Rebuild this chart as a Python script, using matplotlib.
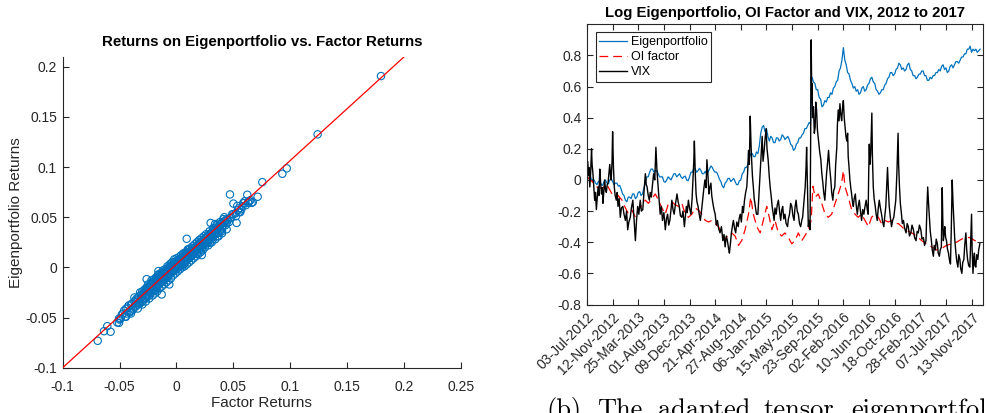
import numpy as np
import matplotlib.pyplot as plt

plt.rcParams['font.family'] = ['Liberation Sans', 'DejaVu Sans']
plt.rcParams['axes.unicode_minus'] = False

# ---- left panel: daily returns, factor vs eigenportfolio ----
factor_ret = [
    -0.044, -0.042, -0.041, -0.040, -0.038, -0.037, -0.036, -0.035, -0.034, -0.033,
    -0.032, -0.031, -0.030, -0.029, -0.028, -0.027, -0.026, -0.025, -0.025, -0.024,
    -0.023, -0.022, -0.022, -0.021, -0.020, -0.020, -0.019, -0.018, -0.018, -0.017,
    -0.016, -0.016, -0.015, -0.015, -0.014, -0.013, -0.013, -0.012, -0.012, -0.011,
    -0.010, -0.010, -0.009, -0.009, -0.008, -0.008, -0.007, -0.007, -0.006, -0.006,
    -0.005, -0.005, -0.004, -0.004, -0.003, -0.003, -0.002, -0.002, -0.001, -0.001,
    0.000, 0.000, 0.001, 0.001, 0.002, 0.002, 0.003, 0.003, 0.004, 0.004,
    0.005, 0.005, 0.006, 0.006, 0.007, 0.007, 0.008, 0.008, 0.009, 0.010,
    0.010, 0.011, 0.012, 0.012, 0.013, 0.014, 0.014, 0.015, 0.016, 0.017,
    0.018, 0.018, 0.019, 0.020, 0.021, 0.022, 0.023, 0.024, 0.025, 0.026,
    0.027, 0.028, 0.029, 0.030, 0.031, 0.032, 0.033, 0.034, 0.035, 0.036,
    0.037, 0.038, 0.039, 0.040, 0.042, 0.043, 0.044, 0.046, 0.048,
    -0.015, -0.008, -0.003, 0.002, 0.006, 0.011, 0.016, 0.021, -0.020, -0.026,
    -0.011, 0.000, 0.004, 0.009, -0.035, -0.030, 0.025, 0.030, -0.048, -0.046,
    0.050, 0.054, 0.056, 0.058, 0.060, 0.064, 0.067, 0.041, 0.044, -0.050,
    -0.043, -0.041, -0.039, -0.038, -0.036, -0.035, -0.034, -0.033, -0.031, -0.030,
    -0.029, -0.028, -0.027, -0.026, -0.025, -0.024, -0.023, -0.022, -0.021, -0.020,
    -0.019, -0.018, -0.017, -0.017, -0.016, -0.015, -0.014, -0.014, -0.013, -0.012,
    -0.011, -0.011, -0.010, -0.009, -0.008, -0.008, -0.007, -0.006, -0.006, -0.005,
    -0.004, -0.004, -0.003, -0.002, -0.002, -0.001, 0.000, 0.000, 0.001, 0.002,
    0.003, 0.003, 0.004, 0.005, 0.005, 0.006, 0.007, 0.007, 0.008, 0.009,
    0.009, 0.010, 0.011, 0.011, 0.012, 0.013, 0.013, 0.014, 0.015, 0.015,
    0.016, 0.017, 0.018, 0.019, 0.019, 0.020, 0.021, 0.022, 0.023, 0.024,
    0.025, 0.026, 0.027, 0.028, 0.029, 0.030, 0.031, 0.032, 0.033, 0.034,
    0.035, 0.036, 0.038, 0.039, 0.040, 0.041, 0.043, 0.045, 0.047, 0.049,
    0.052, 0.055, 0.057, 0.059, 0.061, 0.063, 0.065, -0.047, -0.045, -0.049,
    -0.052, -0.040, -0.027, -0.024, -0.019, 0.018, 0.022, 0.027, 0.032, 0.036,
    0.040, -0.030, -0.022, -0.016, 0.010, 0.006, 0.020,
    -0.040, -0.037, -0.034, -0.032, -0.030, -0.028, -0.027, -0.025, -0.024, -0.022,
    -0.021, -0.020, -0.019, -0.018, -0.017, -0.016, -0.015, -0.014, -0.013, -0.012,
    -0.011, -0.010, -0.009, -0.008, -0.007, -0.006, -0.005, -0.004, -0.003, -0.002,
    -0.001, 0.000, 0.001, 0.002, 0.003, 0.004, 0.005, 0.006, 0.007, 0.008,
    0.009, 0.010, 0.011, 0.012, 0.013, 0.014, 0.015, 0.016, 0.017, 0.018,
    0.019, 0.020, 0.021, 0.022, 0.023, 0.024, 0.025, 0.026, 0.028, 0.029,
    0.031, 0.032, 0.034, 0.035, 0.037, 0.038, 0.040, 0.042, 0.044,
    0.1797, 0.124, 0.093, 0.0969, 0.0754, 0.0713, 0.047, 0.0622, 0.050, 0.0528,
    0.0522, 0.0534, 0.0587, 0.063, 0.066, 0.0552, 0.009, 0.0295, 0.0222, 0.0339,
    0.0383, 0.030, -0.013, -0.0159, -0.0262, -0.0063, -0.0692, -0.0637, -0.0608, -0.0579,
    -0.0505, -0.0505, -0.0444, -0.0444, -0.0262, -0.0218,
]
eigen_ret = [
    -0.046, -0.038, -0.044, -0.037, -0.041, -0.034, -0.039, -0.031, -0.037, -0.029,
    -0.036, -0.027, -0.034, -0.026, -0.030, -0.022, -0.029, -0.020, -0.027, -0.023,
    -0.018, -0.025, -0.016, -0.022, -0.015, -0.023, -0.013, -0.020, -0.012, -0.019,
    -0.010, -0.017, -0.009, -0.016, -0.011, -0.007, -0.014, -0.006, -0.013, -0.008,
    -0.004, -0.011, -0.003, -0.010, -0.005, -0.001, -0.008, -0.002, 0.000, -0.007,
    -0.002, 0.002, -0.005, 0.001, 0.003, -0.003, 0.000, 0.005, -0.002, 0.003,
    0.006, 0.000, 0.002, 0.007, 0.001, 0.005, 0.008, 0.003, 0.004, 0.009,
    0.006, 0.002, 0.010, 0.005, 0.008, 0.012, 0.006, 0.011, 0.013, 0.009,
    0.015, 0.012, 0.016, 0.010, 0.014, 0.018, 0.013, 0.016, 0.020, 0.016,
    0.021, 0.017, 0.023, 0.019, 0.025, 0.021, 0.026, 0.022, 0.029, 0.025,
    0.031, 0.026, 0.033, 0.029, 0.034, 0.030, 0.036, 0.033, 0.039, 0.034,
    0.041, 0.037, 0.043, 0.039, 0.046, 0.042, 0.048, 0.045, 0.050,
    -0.013, -0.007, 0.000, 0.003, 0.007, 0.013, 0.017, 0.023, -0.019, -0.024,
    -0.009, 0.003, 0.006, 0.010, -0.035, -0.029, 0.026, 0.031, -0.047, -0.043,
    0.053, 0.057, 0.055, 0.061, 0.066, 0.066, 0.065, 0.048, 0.044, -0.052,
    -0.040, -0.045, -0.036, -0.042, -0.033, -0.038, -0.032, -0.036, -0.029, -0.031,
    -0.032, -0.025, -0.028, -0.021, -0.024, -0.019, -0.026, -0.019, -0.017, -0.020,
    -0.016, -0.015, -0.013, -0.020, -0.013, -0.012, -0.015, -0.009, -0.010, -0.009,
    -0.012, -0.005, -0.007, -0.006, -0.010, -0.004, -0.005, -0.003, -0.004, -0.006,
    -0.001, -0.002, 0.001, -0.003, 0.002, 0.000, 0.002, -0.002, 0.004, 0.003,
    0.006, 0.001, 0.007, 0.004, 0.008, 0.008, 0.004, 0.010, 0.009, 0.007,
    0.011, 0.012, 0.010, 0.015, 0.013, 0.011, 0.017, 0.016, 0.019, 0.013,
    0.017, 0.020, 0.019, 0.018, 0.022, 0.023, 0.020, 0.025, 0.023, 0.027,
    0.024, 0.029, 0.027, 0.031, 0.028, 0.034, 0.031, 0.036, 0.032, 0.037,
    0.035, 0.038, 0.040, 0.037, 0.044, 0.042, 0.046, 0.047, 0.049, 0.053,
    0.054, 0.059, 0.058, 0.064, 0.062, 0.065, 0.067, -0.046, -0.049, -0.051,
    -0.055, -0.043, -0.031, -0.028, -0.023, 0.014, 0.018, 0.024, 0.028, 0.031,
    0.036, -0.024, -0.015, -0.008, 0.018, 0.013, 0.027,
    -0.046, -0.030, -0.041, -0.025, -0.037, -0.022, -0.034, -0.017, -0.031, -0.013,
    -0.028, -0.012, -0.026, -0.010, -0.024, -0.007, -0.021, -0.006, -0.019, -0.003,
    -0.017, -0.002, -0.015, 0.001, -0.013, 0.003, -0.011, 0.005, -0.008, 0.008,
    -0.006, 0.009, -0.004, 0.010, -0.002, 0.012, 0.000, 0.014, 0.001, 0.015,
    0.003, 0.017, 0.005, 0.019, 0.007, 0.021, 0.009, 0.023, 0.011, 0.025,
    0.013, 0.027, 0.015, 0.029, 0.017, 0.031, 0.020, 0.033, 0.022, 0.036,
    0.025, 0.039, 0.028, 0.042, 0.031, 0.045, 0.034, 0.050, 0.038,
    0.1907, 0.1326, 0.0933, 0.0987, 0.085, 0.0704, 0.0727, 0.0724, 0.0636, 0.0443,
    0.051, 0.0612, 0.0643, 0.0643, 0.0643, 0.0554, 0.0285, 0.0245, 0.0122, 0.0432,
    0.0435, 0.0443, -0.027, -0.0037, -0.0117, -0.017, -0.0732, -0.0636, -0.0586, -0.0642,
    -0.0553, -0.051, -0.0493, -0.0413, -0.020, -0.017,
]
fit_slope = 1.033
fit_intercept = 0.0033

x_ticks_left = [-0.1, -0.05, 0, 0.05, 0.1, 0.15, 0.2, 0.25]
x_labels_left = ['-0.1', '-0.05', '0', '0.05', '0.1', '0.15', '0.2', '0.25']
y_ticks_left = [-0.1, -0.05, 0, 0.05, 0.1, 0.15, 0.2]
y_labels_left = ['-0.1', '-0.05', '0', '0.05', '0.1', '0.15', '0.2']

# ---- right panel: log levels, (trading day, value) ----
eig_obs = [
    (0, 0.02), (5, 0.045), (10, 0.04), (15, 0.005), (20, 0.00), (25, 0.0), (30, -0.02), (35, -0.03),
    (40, -0.01), (45, -0.005), (50, -0.03), (55, -0.035), (60, -0.01), (65, 0.0), (70, -0.02),
    (75, -0.025), (80, 0.00), (85, 0.01), (90, -0.01), (95, -0.03),
    (100, -0.02), (105, -0.02), (110, -0.04), (115, -0.035), (120, -0.06), (125, -0.09), (130, -0.10),
    (135, -0.13), (140, -0.14), (145, -0.11), (150, -0.11), (155, -0.12), (160, -0.09), (165, -0.09),
    (170, -0.12), (175, -0.11), (180, -0.08), (185, -0.075), (190, -0.10), (195, -0.09),
    (200, -0.05), (205, -0.02), (210, 0.02), (215, 0.02), (220, 0.05), (225, 0.07), (230, 0.07),
    (235, 0.05), (240, 0.06), (245, 0.06), (250, 0.04), (255, 0.02), (260, 0.02), (265, 0.02),
    (270, -0.01), (275, -0.015), (280, 0.00), (285, 0.02), (290, 0.01), (295, 0.0),
    (300, 0.02), (305, 0.04), (310, 0.04), (315, 0.02), (320, 0.03), (325, 0.04), (330, 0.02),
    (335, 0.01), (340, 0.02), (345, 0.025), (350, 0.00), (355, -0.005), (360, 0.02), (365, 0.05),
    (370, 0.05), (375, 0.075), (380, 0.07), (385, 0.05), (390, 0.06), (395, 0.075),
    (400, 0.06), (405, 0.04), (410, 0.04), (415, 0.055), (420, 0.04), (425, 0.05), (430, 0.07),
    (435, 0.09), (440, 0.08), (445, 0.06), (450, 0.05), (455, 0.05), (460, 0.03), (465, 0.005),
    (470, -0.01), (475, -0.04), (480, -0.05), (485, -0.02), (490, -0.01), (495, 0.01),
    (500, 0.01), (505, -0.01), (510, 0.00), (515, 0.01), (520, -0.01), (525, -0.03), (530, -0.03),
    (535, -0.005), (540, 0.00), (545, 0.04), (550, 0.05), (555, 0.08), (560, 0.08), (565, 0.10),
    (570, 0.14), (575, 0.17), (580, 0.17), (585, 0.15), (590, 0.15), (595, 0.18),
    (600, 0.17), (605, 0.22), (610, 0.30), (615, 0.34), (620, 0.35), (625, 0.31), (630, 0.33),
    (635, 0.28), (640, 0.25), (645, 0.28), (650, 0.27), (655, 0.24), (660, 0.24), (665, 0.27),
    (670, 0.27), (675, 0.25), (680, 0.26), (685, 0.29), (690, 0.28), (695, 0.26),
    (700, 0.27), (705, 0.28), (710, 0.26), (715, 0.23), (720, 0.22), (725, 0.19), (730, 0.20),
    (735, 0.23), (740, 0.24), (745, 0.27), (750, 0.27), (755, 0.29), (760, 0.30), (765, 0.33),
    (770, 0.33), (775, 0.35), (780, 0.37), (785, 0.36), (787, 0.66), (790, 0.66), (795, 0.63),
    (800, 0.62), (805, 0.58), (810, 0.58), (815, 0.53), (820, 0.52), (825, 0.47), (830, 0.48),
    (835, 0.51), (840, 0.50), (845, 0.53), (850, 0.53), (855, 0.56), (860, 0.55), (865, 0.59),
    (870, 0.60), (875, 0.63), (880, 0.64), (885, 0.70), (890, 0.72), (895, 0.77),
    (900, 0.85), (905, 0.77), (910, 0.74), (915, 0.69), (920, 0.68), (925, 0.64), (930, 0.62),
    (935, 0.59), (940, 0.60), (945, 0.57), (950, 0.58), (955, 0.55), (960, 0.56), (965, 0.59),
    (970, 0.60), (975, 0.57), (980, 0.58), (985, 0.61), (990, 0.62), (995, 0.65),
    (1000, 0.66), (1005, 0.63), (1010, 0.62), (1015, 0.58), (1020, 0.57), (1025, 0.55), (1030, 0.56),
    (1035, 0.58), (1040, 0.58), (1045, 0.61), (1050, 0.62), (1055, 0.65), (1060, 0.66), (1065, 0.69),
    (1070, 0.69), (1075, 0.67), (1080, 0.68), (1085, 0.71), (1090, 0.72), (1095, 0.75),
    (1100, 0.74), (1105, 0.71), (1110, 0.72), (1115, 0.70), (1120, 0.71), (1125, 0.74), (1130, 0.75),
    (1135, 0.71), (1140, 0.70), (1145, 0.67), (1150, 0.67), (1155, 0.65), (1160, 0.66), (1165, 0.68),
    (1170, 0.68), (1175, 0.70), (1180, 0.70), (1185, 0.67), (1190, 0.67), (1195, 0.64),
    (1200, 0.64), (1205, 0.66), (1210, 0.65), (1215, 0.67), (1220, 0.67), (1225, 0.69), (1230, 0.69),
    (1235, 0.71), (1240, 0.70), (1245, 0.73), (1250, 0.74), (1255, 0.71), (1260, 0.72), (1265, 0.69),
    (1270, 0.70), (1275, 0.73), (1280, 0.74), (1285, 0.72), (1290, 0.74), (1295, 0.76),
    (1300, 0.76), (1305, 0.75), (1310, 0.77), (1315, 0.79), (1320, 0.79), (1325, 0.81), (1330, 0.81),
    (1335, 0.84), (1340, 0.84), (1345, 0.86), (1350, 0.82), (1355, 0.84), (1360, 0.83), (1365, 0.84),
    (1370, 0.82), (1375, 0.83), (1380, 0.84),
]

oi_obs = [
    (0, 0.02), (18, -0.01), (35, -0.045), (53, -0.055), (70, -0.03), (88, -0.09), (105, -0.09),
    (123, -0.13), (135, -0.18), (146, -0.22), (158, -0.195), (170, -0.24), (181, -0.195),
    (193, -0.16), (205, -0.13), (216, -0.15), (228, -0.12), (240, -0.09), (251, -0.13),
    (263, -0.18), (275, -0.22), (286, -0.15), (298, -0.14), (310, -0.16), (322, -0.17),
    (333, -0.15), (345, -0.22), (356, -0.24), (368, -0.22), (380, -0.18), (392, -0.195),
    (403, -0.22), (415, -0.26), (427, -0.27), (438, -0.26), (450, -0.28), (462, -0.30),
    (473, -0.35), (485, -0.38), (497, -0.35), (508, -0.34), (520, -0.36), (532, -0.42),
    (543, -0.39), (555, -0.32), (567, -0.22), (575, -0.11), (584, -0.22), (596, -0.30),
    (608, -0.34), (619, -0.26), (631, -0.17), (640, -0.24), (649, -0.32), (660, -0.26),
    (672, -0.34), (684, -0.36), (695, -0.34), (707, -0.37), (719, -0.41), (730, -0.39),
    (742, -0.34), (754, -0.39), (766, -0.355), (777, -0.32), (787, -0.26), (793, -0.04),
    (801, -0.11), (812, -0.09), (824, -0.15), (836, -0.22), (847, -0.24), (859, -0.22),
    (871, -0.15), (882, -0.09), (894, -0.02), (900, 0.06), (906, -0.045), (917, -0.11),
    (929, -0.19), (941, -0.22), (952, -0.24), (964, -0.22), (976, -0.26), (988, -0.30),
    (999, -0.24), (1011, -0.22), (1023, -0.24), (1034, -0.28), (1046, -0.26), (1058, -0.27),
    (1069, -0.26), (1081, -0.28), (1093, -0.28), (1105, -0.30), (1116, -0.32), (1128, -0.33),
    (1140, -0.34), (1157, -0.36), (1175, -0.39), (1192, -0.41), (1210, -0.43), (1227, -0.45),
    (1245, -0.44), (1262, -0.42), (1280, -0.41), (1297, -0.40), (1315, -0.38), (1333, -0.37),
    (1344, -0.37), (1362, -0.39), (1379, -0.40),
]

vix_obs = [
    (0, 0.10), (1, 0.02), (2, 0.12), (5, 0.03), (7, 0.08), (10, -0.045), (13, 0.05), (16, 0.20),
    (18, 0.10), (21, 0.04), (24, -0.05), (27, -0.13), (30, -0.08), (33, -0.19), (36, -0.12),
    (39, -0.045), (42, -0.10), (45, 0.07), (48, -0.02), (51, -0.09), (54, -0.05), (56, -0.15),
    (59, -0.08), (62, 0.00), (65, -0.06), (68, -0.08), (71, -0.03), (74, -0.02), (77, 0.04),
    (80, 0.10), (83, 0.02), (85, 0.00), (88, 0.12), (90, 0.31), (93, 0.08), (96, -0.045),
    (99, -0.10), (103, -0.13), (106, -0.08), (109, -0.17), (113, -0.12), (117, -0.24), (121, -0.18),
    (126, -0.17), (130, -0.22), (135, -0.26), (139, -0.20), (143, -0.32), (147, -0.27), (152, -0.24),
    (156, -0.18), (161, -0.13), (165, -0.25), (170, -0.39), (174, -0.26), (178, -0.17), (182, -0.22),
    (187, -0.13), (191, -0.20), (196, -0.19), (200, -0.08), (205, 0.04), (208, -0.03), (211, -0.045),
    (215, -0.10), (219, -0.13), (222, -0.08), (226, -0.11), (230, -0.03), (234, 0.04), (238, 0.00),
    (242, 0.21), (246, 0.05), (250, -0.045), (254, -0.14), (257, -0.22), (261, -0.17), (265, -0.26),
    (270, -0.21), (275, -0.32), (279, -0.25), (283, -0.22), (287, -0.29), (291, -0.26), (295, -0.19),
    (298, -0.13), (302, -0.19), (306, -0.22), (311, -0.15), (316, -0.09), (320, -0.14), (324, -0.17),
    (328, -0.23), (333, -0.24), (337, -0.20), (342, -0.30), (345, -0.24), (349, -0.17), (352, -0.21),
    (356, -0.13), (360, -0.18), (365, -0.22), (369, -0.12), (373, 0.04), (375, 0.12), (377, 0.25),
    (380, 0.05), (383, -0.09), (386, -0.14), (390, -0.17), (394, -0.22), (398, -0.26), (402, -0.20),
    (406, -0.13), (410, -0.06), (414, 0.00), (418, -0.05), (421, 0.13), (425, 0.02), (428, -0.09),
    (431, -0.05), (435, -0.02), (438, -0.10), (442, -0.15), (446, -0.19), (450, -0.22), (454, -0.29),
    (458, -0.26), (462, -0.31), (467, -0.34), (472, -0.30), (477, -0.39), (481, -0.35), (485, -0.43),
    (489, -0.36), (493, -0.39), (497, -0.44), (500, -0.47), (504, -0.40), (507, -0.34), (511, -0.29),
    (514, -0.26), (518, -0.31), (522, -0.34), (526, -0.27), (531, -0.30), (534, -0.25), (538, -0.22),
    (542, -0.27), (546, -0.17), (549, -0.21), (553, -0.13), (557, -0.08), (561, -0.045), (564, 0.05),
    (567, 0.19), (570, 0.10), (573, 0.41), (576, 0.22), (578, 0.13), (581, 0.02), (584, -0.045),
    (587, -0.12), (591, -0.17), (595, -0.22), (600, -0.22), (604, -0.08), (608, 0.05), (611, 0.15),
    (615, 0.28), (618, 0.12), (622, 0.19), (625, 0.26), (629, 0.33), (632, 0.20), (636, 0.13),
    (640, 0.02), (643, -0.045), (647, -0.11), (650, -0.17), (654, -0.22), (657, -0.26), (660, -0.18),
    (664, -0.22), (668, -0.16), (672, -0.13), (676, -0.20), (680, -0.26), (684, -0.19), (687, -0.17),
    (691, -0.25), (695, -0.22), (699, -0.28), (704, -0.30), (707, -0.25), (711, -0.22), (715, -0.15),
    (719, -0.17), (723, -0.23), (727, -0.26), (730, -0.18), (734, -0.13), (738, -0.20), (742, -0.22),
    (746, -0.28), (750, -0.30), (754, -0.26), (757, -0.24), (761, -0.15), (766, -0.045), (769, 0.08),
    (771, 0.21), (774, -0.05), (777, -0.30), (780, -0.26), (783, -0.32), (785, 0.20), (787, 0.90),
    (789, 0.55), (790, 0.62), (792, 0.40), (795, 0.47), (798, 0.30), (801, 0.34), (803, 0.50),
    (806, 0.45), (809, 0.32), (813, 0.25), (817, 0.18), (821, 0.13), (824, 0.05), (828, -0.02),
    (831, -0.08), (835, -0.13), (838, -0.05), (841, 0.04), (845, 0.12), (848, 0.19), (852, 0.08),
    (856, 0.00), (859, -0.08), (863, -0.13), (866, -0.07), (870, -0.045), (873, 0.10), (877, 0.21),
    (879, 0.35), (882, 0.45), (885, 0.38), (888, 0.49), (891, 0.42), (894, 0.38), (897, 0.46),
    (900, 0.51), (903, 0.40), (906, 0.34), (909, 0.28), (912, 0.25), (915, 0.30), (917, 0.15),
    (920, 0.08), (923, 0.00), (926, -0.05), (929, -0.09), (932, -0.14), (935, -0.17), (938, -0.12),
    (942, -0.09), (945, -0.16), (949, -0.22), (952, -0.17), (956, -0.13), (960, -0.20), (964, -0.26),
    (968, -0.19), (972, -0.22), (976, -0.17), (980, -0.13), (984, -0.19), (987, -0.22), (989, 0.05),
    (991, 0.23), (993, 0.10), (996, 0.17), (998, 0.30), (1000, 0.43), (1002, 0.15), (1005, -0.045),
    (1008, -0.12), (1012, -0.17), (1015, -0.22), (1019, -0.26), (1022, -0.19), (1026, -0.13),
    (1030, -0.18), (1034, -0.22), (1038, -0.27), (1042, -0.30), (1045, -0.24), (1049, -0.17),
    (1052, -0.05), (1055, 0.08), (1058, -0.06), (1061, -0.17), (1065, -0.24), (1069, -0.30),
    (1073, -0.26), (1077, -0.24), (1081, -0.18), (1084, -0.13), (1088, 0.05), (1092, 0.30),
    (1094, 0.10), (1097, -0.045), (1100, -0.15), (1104, -0.22), (1107, -0.28), (1111, -0.26),
    (1115, -0.31), (1120, -0.34), (1124, -0.28), (1128, -0.30), (1132, -0.36), (1137, -0.34),
    (1141, -0.29), (1146, -0.32), (1150, -0.37), (1155, -0.39), (1159, -0.33), (1163, -0.34),
    (1167, -0.29), (1172, -0.32), (1176, -0.38), (1181, -0.37), (1185, -0.42), (1190, -0.39),
    (1193, -0.20), (1196, -0.045), (1199, -0.15), (1202, -0.24), (1205, -0.33), (1209, -0.39),
    (1212, -0.45), (1216, -0.49), (1219, -0.42), (1223, -0.45), (1226, -0.38), (1230, -0.41),
    (1233, -0.47), (1237, -0.49), (1240, -0.45), (1244, -0.43), (1246, -0.20), (1247, -0.05),
    (1249, -0.25), (1251, -0.39), (1254, -0.34), (1256, -0.30), (1259, -0.37), (1262, -0.39),
    (1265, -0.44), (1269, -0.47), (1272, -0.51), (1276, -0.54), (1279, -0.30), (1282, 0.00),
    (1285, -0.15), (1288, -0.26), (1291, -0.38), (1295, -0.47), (1298, -0.52), (1302, -0.56),
    (1305, -0.48), (1309, -0.51), (1312, -0.57), (1316, -0.60), (1319, -0.53), (1323, -0.51),
    (1326, -0.42), (1330, -0.34), (1333, -0.45), (1336, -0.51), (1340, -0.55), (1344, -0.56),
    (1347, -0.40), (1350, -0.22), (1352, -0.45), (1355, -0.60), (1358, -0.50), (1360, -0.47),
    (1362, -0.55), (1365, -0.56), (1368, -0.48), (1372, -0.51), (1375, -0.45), (1379, -0.41),
]

date_ticks = np.arange(0, 1351, 90)
date_labels = ['03-Jul-2012', '12-Nov-2012', '25-Mar-2013', '01-Aug-2013',
               '09-Dec-2013', '21-Apr-2014', '27-Aug-2014', '06-Jan-2015',
               '15-May-2015', '23-Sep-2015', '02-Feb-2016', '10-Jun-2016',
               '18-Oct-2016', '28-Feb-2017', '07-Jul-2017', '13-Nov-2017']
y_ticks_right = [-0.8, -0.6, -0.4, -0.2, 0, 0.2, 0.4, 0.6, 0.8]
y_labels_right = ['-0.8', '-0.6', '-0.4', '-0.2', '0', '0.2', '0.4', '0.6', '0.8']

axis_grey = '#262626'
matlab_blue = '#0072BD'

fig = plt.figure(figsize=(9.87, 4.13), dpi=100)

# left: scatter with fitted line
ax1 = fig.add_axes([0.0635, 0.1097, 0.4036, 0.753])
ax1.scatter(factor_ret, eigen_ret, s=28, facecolors='none',
            edgecolors=matlab_blue, linewidths=0.8, zorder=2)
xs = np.array([-0.1, 0.25])
ax1.plot(xs, fit_slope * xs + fit_intercept, color='red', lw=0.9, zorder=3)
ax1.set_xlim(-0.1, 0.25)
ax1.set_ylim(-0.1, 0.21)
ax1.set_xticks(x_ticks_left, x_labels_left)
ax1.set_yticks(y_ticks_left, y_labels_left)
ax1.spines['top'].set_visible(False)
ax1.spines['right'].set_visible(False)
ax1.tick_params(axis='x', pad=9)
ax1.tick_params(axis='y', pad=4)
ax1.set_title('Returns on Eigenportfolio vs. Factor Returns',
              fontsize=10.8, fontweight='bold', pad=8)
ax1.set_xlabel('Factor Returns', fontsize=11, color=axis_grey, labelpad=1)
ax1.set_ylabel('Eigenportfolio Returns', fontsize=11, color=axis_grey, labelpad=2)

# right: log series over time
ax2 = fig.add_axes([0.5947, 0.2627, 0.4012, 0.6785])
eig_days, eig_log = zip(*eig_obs)
oi_days, oi_log = zip(*oi_obs)
vix_days, vix_log = zip(*vix_obs)
ax2.plot(eig_days, eig_log, color=matlab_blue, lw=0.9, label='Eigenportfolio')
ax2.plot(oi_days, oi_log, color='red', lw=0.9, dashes=(7, 4), label='OI factor')
ax2.plot(vix_days, vix_log, color='black', lw=1.0, label='VIX')
ax2.set_xlim(0, 1390)
ax2.set_ylim(-0.8, 1.0)
ax2.set_xticks(date_ticks, date_labels, rotation=45, ha='right',
               rotation_mode='anchor')
ax2.set_yticks(y_ticks_right, y_labels_right)
ax2.tick_params(top=True, right=True)
ax2.tick_params(axis='x', pad=4)
ax2.tick_params(axis='y', pad=4)
ax2.set_title('Log Eigenportfolio, OI Factor and VIX, 2012 to 2017',
              fontsize=10.7, fontweight='bold', pad=5)
leg = ax2.legend(loc='upper left', bbox_to_anchor=(0.022, 0.972),
                 borderaxespad=0, fancybox=False, framealpha=1,
                 edgecolor=axis_grey, fontsize=9, handlelength=2.2,
                 handletextpad=0.3, labelspacing=0.25, borderpad=0.3)
leg.get_frame().set_linewidth(0.8)

for ax in (ax1, ax2):
    for sp in ax.spines.values():
        sp.set_color(axis_grey)
        sp.set_linewidth(0.8)
    ax.tick_params(direction='in', length=4, width=0.8, colors=axis_grey,
                   labelsize=10)

# sub-figure caption, running past the bottom and right edges
caption_words = ['(b)', 'The', 'adapted', 'tensor', 'eigenportfolio']
caption_x = [546.7, 596.7, 658, 763, 851.7]
for word, px in zip(caption_words, caption_x):
    fig.text(px / 987, -4 / 413, word, family='cmr10', fontsize=19,
             va='baseline', ha='left')

fig.savefig('out.png', dpi=100)
